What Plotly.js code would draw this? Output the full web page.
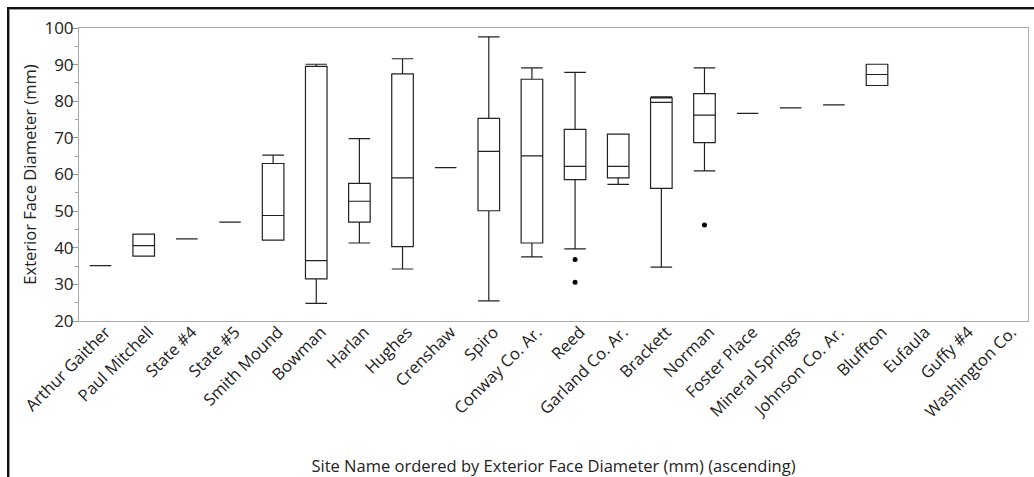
<!DOCTYPE html>
<html>
<head>
<meta charset="utf-8">
<script src="https://cdn.plot.ly/plotly-3.0.1.min.js"></script>
<style>
  html, body { margin: 0; padding: 0; background: #fff; overflow: hidden; }
  #wrap { position: relative; width: 1034px; height: 477px; overflow: hidden; }
  #chart { position: absolute; left: 0; top: 0; width: 1034px; height: 477px; }
  #frame { position: absolute; left: 7px; top: 7px; width: 2000px; height: 2000px;
           border-left: 2px solid #111; border-top: 2px solid #111;
           box-shadow: inset 1px 1px 0 #999; pointer-events: none; }
</style>
</head>
<body>
<div id="wrap">
  <div id="chart"></div>
  <div id="frame"></div>
</div>
<script>
// All site categories (ascending order of exterior face diameter)
const sites = ["Arthur Gaither", "Paul Mitchell", "State #4", "State #5", "Smith Mound",
  "Bowman", "Harlan", "Hughes", "Crenshaw", "Spiro", "Conway Co. Ar.", "Reed",
  "Garland Co. Ar.", "Brackett", "Norman", "Foster Place", "Mineral Springs",
  "Johnson Co. Ar.", "Bluffton", "Eufaula", "Guffy #4", "Washington Co."];

// Sites that have box statistics
const boxSites = ["Arthur Gaither", "Paul Mitchell", "State #4", "State #5", "Smith Mound",
  "Bowman", "Harlan", "Hughes", "Crenshaw", "Spiro", "Conway Co. Ar.", "Reed",
  "Garland Co. Ar.", "Brackett", "Norman", "Foster Place", "Mineral Springs",
  "Johnson Co. Ar.", "Bluffton"];
const lowerWhisker = [35.1, 37.7, 42.4, 47.0, 42.1, 24.8, 41.3, 34.2, 61.9, 25.5, 37.5, 39.7, 57.3, 34.7, 61.0, 76.7, 78.2, 79.0, 84.3];
const q1Values     = [35.1, 37.7, 42.4, 47.0, 42.1, 31.5, 47.0, 40.3, 61.9, 50.1, 41.3, 58.6, 59.1, 56.2, 68.7, 76.7, 78.2, 79.0, 84.3];
const medianValues = [35.1, 40.6, 42.4, 47.0, 48.8, 36.5, 52.7, 59.1, 61.9, 66.3, 65.1, 62.2, 62.2, 79.7, 76.2, 76.7, 78.2, 79.0, 87.3];
const q3Values     = [35.1, 43.7, 42.4, 47.0, 63.0, 89.5, 57.6, 87.5, 61.9, 75.3, 86.0, 72.3, 71.0, 80.9, 82.1, 76.7, 78.2, 79.0, 90.1];
const upperWhisker = [35.1, 43.7, 42.4, 47.0, 65.3, 90.1, 69.8, 91.6, 61.9, 97.6, 89.1, 87.9, 71.0, 81.2, 89.1, 76.7, 78.2, 79.0, 90.1];

// Outlier points
const outlierSites  = ["Reed", "Reed", "Norman"];
const outlierValues = [36.8, 30.6, 46.2];

const yTickVals = [20, 30, 40, 50, 60, 70, 80, 90, 100];

const FONT = "'Open Sans', 'Noto Sans', sans-serif";

const traces = [
  {
    type: "scatter",
    x: sites,
    y: sites.map(() => null),
    mode: "markers",
    marker: { opacity: 0 },
    hoverinfo: "skip",
    showlegend: false
  },
  {
    type: "box",
    x: boxSites,
    q1: q1Values,
    median: medianValues,
    q3: q3Values,
    lowerfence: lowerWhisker,
    upperfence: upperWhisker,
    boxpoints: false,
    width: 0.5,
    whiskerwidth: 1,
    fillcolor: "rgba(255,255,255,0)",
    line: { color: "#222", width: 1.2 },
    showlegend: false
  },
  {
    type: "scatter",
    x: outlierSites,
    y: outlierValues,
    mode: "markers",
    marker: { color: "#000", size: 5 },
    showlegend: false
  }
];

const layout = {
  width: 1034,
  height: 477,
  margin: { l: 79, r: 6, t: 28, b: 156 },
  paper_bgcolor: "#fff",
  plot_bgcolor: "#fff",
  showlegend: false,
  font: { family: FONT, color: "#222" },
  xaxis: {
    type: "category",
    categoryorder: "array",
    categoryarray: sites,
    range: [-0.5, sites.length - 0.5],
    tickangle: -45,
    tickfont: { size: 16.5, family: FONT, color: "#222" },
    ticklabelshift: 5,
    ticklabelstandoff: -6,
    ticks: "",
    showgrid: false,
    zeroline: false,
    showline: true,
    mirror: true,
    linecolor: "#aaa",
    linewidth: 1,
    automargin: false,
    title: { text: "Site Name ordered by Exterior Face Diameter (mm) (ascending)",
             font: { size: 16.5, family: FONT, color: "#222" }, standoff: 56 }
  },
  yaxis: {
    range: [20, 100],
    tickvals: yTickVals,
    ticks: "outside",
    ticklen: 6,
    tickcolor: "#999",
    ticklabelstandoff: -5,
    tickfont: { size: 17, family: FONT, color: "#222" },
    minor: { dtick: 5, ticks: "outside", ticklen: 3, tickcolor: "#999", showgrid: false },
    showgrid: false,
    zeroline: false,
    showline: true,
    mirror: true,
    linecolor: "#aaa",
    linewidth: 1,
    automargin: false,
    title: { text: "Exterior Face Diameter (mm)",
             font: { size: 16.5, family: FONT, color: "#222" } }
  }
};

Plotly.newPlot("chart", traces, layout, { displayModeBar: false, staticPlot: true });
</script>
</body>
</html>
